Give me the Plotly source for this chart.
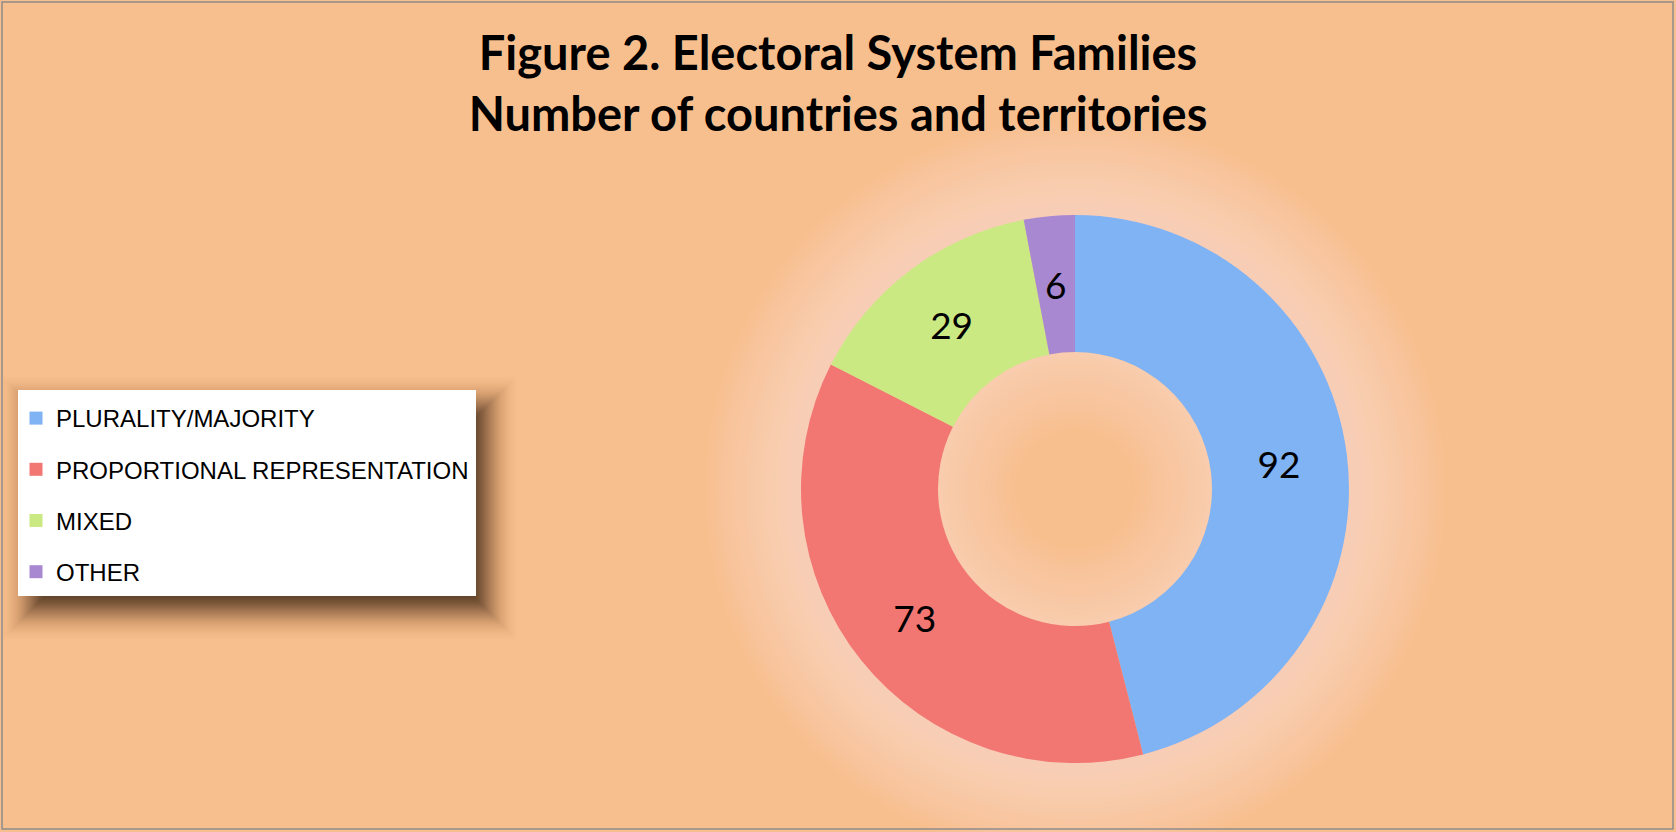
import math
import plotly.graph_objects as go

W, H = 1676, 832

# data
systems = ["PLURALITY/MAJORITY", "PROPORTIONAL REPRESENTATION", "MIXED", "OTHER"]
counts = [92, 73, 29, 6]
colors = ["#80B3F3", "#F27772", "#CBE983", "#A988D2"]

title_lines = ["Figure 2. Electoral System Families", "Number of countries and territories"]

bg = "#F8BF8E"

# donut placement in pixels
cx, cy, r = 1075, 489, 274
hole = 0.5


def px(x):
    return x / W


def py(y):
    return 1 - y / H


def ring_path(r_in, r_out, n=120):
    # annulus as two polygons, filled with evenodd
    def poly(rad):
        pts = []
        for i in range(n):
            a = 2 * math.pi * i / n
            pts.append(f"{px(cx + rad * math.cos(a)):.5f},{py(cy + rad * math.sin(a)):.5f}")
        return "M" + " L".join(pts) + " Z"
    return poly(r_out) + " " + poly(r_in)


fig = go.Figure()

# small slices get their label placed mid-ring by hand, like the original
small = [v / sum(counts) < 0.05 for v in counts]

fig.add_trace(go.Pie(
    labels=systems, values=counts,
    marker=dict(colors=colors, line=dict(width=0)),
    hole=hole, sort=False, direction="clockwise", rotation=0,
    texttemplate=["" if s else "%{value}" for s in small],
    textposition="inside", insidetextorientation="horizontal",
    textfont=dict(family="Lato, Calibri, sans-serif", size=37, color="black"),
    domain=dict(x=[px(cx - r), px(cx + r)], y=[py(cy + r), py(cy - r)]),
    showlegend=False,
))

annotations = []
cum = 0
for v, s in zip(counts, small):
    mid = (cum + v / 2) / sum(counts) * 2 * math.pi
    cum += v
    if s:
        rm = r * (1 + hole) / 2
        annotations.append(dict(
            x=px(cx + rm * math.sin(mid)), y=py(cy - rm * math.cos(mid)),
            xref="paper", yref="paper", text=str(v), showarrow=False,
            font=dict(family="Lato, Calibri, sans-serif", size=37, color="black")))

# legend entries as dummy square markers
for name, c in zip(systems, colors):
    fig.add_trace(go.Scatter(
        x=[None], y=[None], mode="markers", name=name,
        marker=dict(symbol="square", size=13, color=c),
        legendgroup=name,
    ))

shapes = []
# soft glow around the donut
for ro in range(370, 270, -5):
    shapes.append(dict(type="path", path=ring_path(265, ro), xref="paper", yref="paper",
                       fillcolor="rgba(255,238,220,0.04)", line=dict(width=0),
                       fillrule="evenodd", layer="below"))
# lighter rim inside the hole
for ri in range(60, 137, 6):
    shapes.append(dict(type="path", path=ring_path(ri, 140), xref="paper", yref="paper",
                       fillcolor="rgba(255,238,220,0.04)", line=dict(width=0),
                       fillrule="evenodd", layer="below"))

# legend box with a soft shadow: stacked rects approximating a gaussian blur
lx0, ly0, lx1, ly1 = 18, 390, 476, 596
dx, dy, sigma, dark = 12, 15, 13, 0.85


def shadow_alpha(d):
    return dark * 0.5 * math.erfc(d / (sigma * math.sqrt(2)))


for s in range(45, -18, -1):
    a_out = shadow_alpha(s + 1)
    a_in = shadow_alpha(s)
    op = 1 - (1 - a_in) / (1 - a_out)
    shapes.append(dict(type="rect", xref="paper", yref="paper",
                       x0=px(lx0 + dx - s), x1=px(lx1 + dx + s),
                       y0=py(ly1 + dy + s), y1=py(ly0 + dy - s),
                       fillcolor=f"rgba(62,40,22,{op:.4f})", line=dict(width=0), layer="below"))
shapes.append(dict(type="rect", xref="paper", yref="paper",
                   x0=px(lx0), x1=px(lx1), y0=py(ly1), y1=py(ly0),
                   fillcolor="white", line=dict(width=0), layer="below"))

# chart border
shapes.append(dict(type="rect", xref="paper", yref="paper",
                   x0=px(2), x1=px(W - 3), y0=py(H - 3), y1=py(2),
                   line=dict(color="#8C8C8C", width=1.5), fillcolor="rgba(0,0,0,0)"))

fig.update_layout(
    width=W, height=H,
    margin=dict(l=0, r=0, t=0, b=0),
    paper_bgcolor=bg, plot_bgcolor="rgba(0,0,0,0)",
    title=dict(text="<br>".join(title_lines), x=0.5, xanchor="center",
               y=py(70), yanchor="middle",
               font=dict(family="Lato, Calibri, sans-serif", size=47, color="black", weight="bold")),
    legend=dict(x=px(lx0 - 2), y=py(ly0 + 6), xanchor="left", yanchor="top",
                bgcolor="rgba(0,0,0,0)", borderwidth=0, tracegroupgap=17,
                font=dict(family="Liberation Sans, Arial, sans-serif", size=24, color="black"),
                itemwidth=30),
    xaxis=dict(visible=False), yaxis=dict(visible=False),
    shapes=shapes,
    annotations=annotations,
)

fig.write_html("out.html", config={"displayModeBar": False},
               post_script="document.body.style.margin='0';")
